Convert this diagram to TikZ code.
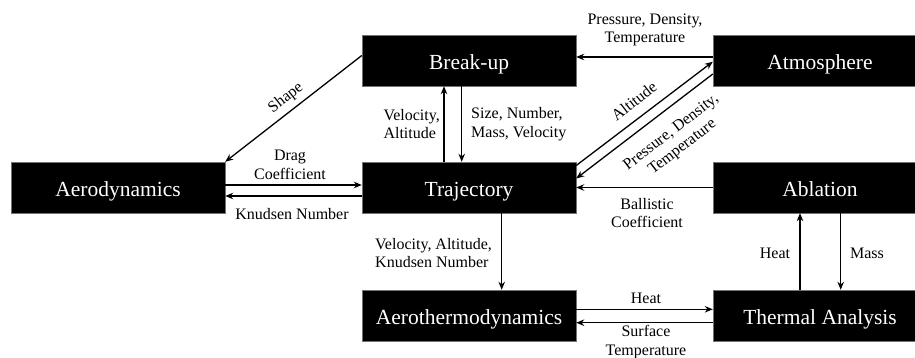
\documentclass[tikz,border=0pt]{standalone}
\usepackage{fontspec}
\setmainfont{Liberation Serif}
\usetikzlibrary{arrows.meta}
\begin{document}
\begin{tikzpicture}[x=1pt,y=-1pt,
  box/.style={fill=black, draw=black!55, line width=0.4pt, minimum width=214pt, minimum height=51pt,
    inner sep=0pt, text=white, text height=18pt, text depth=0pt, font=\fontsize{21.5}{24}\selectfont},
  lbl/.style={font=\fontsize{16}{18.5}\selectfont, inner sep=0pt, align=center},
  arr/.style={line width=1.3pt, -{Stealth[length=8pt,width=6.5pt]}}]
\useasboundingbox (0,0) rectangle (915,358);
\clip (0,0) rectangle (915,358);
% boxes
\node[box] (aero) at (118,187.5) {Aerodynamics};
\node[box] (breakup) at (469,60.5) {Break-up};
\node[box] (traj) at (469,187.5) {Trajectory};
\node[box] (atmos) at (820,60.5) {Atmosphere};
\node[box] (abl) at (820,187.5) {Ablation};
\node[box] (aerot) at (469,315.5) {Aerothermodynamics};
\node[box] (therm) at (820,315.5) {Thermal Analysis};
% connectors
\draw[arr] ([yshift=3.5pt]atmos.west) -- ([yshift=3.5pt]breakup.east);
\draw[arr] ([yshift=5pt]breakup.west) -- (aero.north east);
\draw[arr] ([yshift=2.5pt]aero.east) -- ([yshift=2.5pt]traj.west);
\draw[arr] ([yshift=-8.5pt]traj.west) -- ([yshift=-8.5pt]aero.east);
\draw[arr] ([xshift=-25pt]traj.north) -- ([xshift=-25pt]breakup.south);
\draw[arr] ([xshift=-7.3pt]breakup.south) -- ([xshift=-7.3pt]traj.north);
\draw[arr] ([yshift=-3.7pt]traj.north east) -- ([yshift=-1.2pt]atmos.west);
\draw[arr] ([yshift=-13.5pt]atmos.west) -- ([yshift=9pt]traj.east);
\draw[arr] (abl.west) -- (traj.east);
\draw[arr] ([xshift=32.7pt]traj.south) -- ([xshift=32.7pt]aerot.north);
\draw[arr] ([yshift=6.2pt]aerot.east) -- ([yshift=6.2pt]therm.west);
\draw[arr] ([yshift=-7.2pt]therm.west) -- ([yshift=-7.2pt]aerot.east);
\draw[arr] ([xshift=-20pt]therm.north) -- ([xshift=-20pt]abl.south);
\draw[arr] ([xshift=20.7pt]abl.south) -- ([xshift=20.7pt]therm.north);
% labels
\node[lbl] (lpdt) at (645,30) {Pressure, Density,\\Temperature};
\node[lbl, rotate=38] (lshape) at (286,98) {Shape};
\node[lbl] (ldrag) at (290,165) {Drag\\Coefficient};
\node[lbl] (lknud) at (292,214) {Knudsen Number};
\node[lbl, align=left, anchor=east] (lva) at (440,124) {Velocity,\\Altitude};
\node[lbl, align=left, anchor=west] (lsize) at (471,124) {Size, Number,\\Mass, Velocity};
\node[lbl, rotate=37.7] (lalt) at (634,101) {Altitude};
\node[lbl, rotate=37.5] (lpdt2) at (677,140) {Pressure, Density,\\Temperature};
\node[lbl] (lball) at (647,213) {Ballistic\\Coefficient};
\node[lbl, align=left, anchor=west] (lvak) at (375,253) {Velocity, Altitude,\\Knudsen Number};
\node[lbl] (lheat) at (646,298) {Heat};
\node[lbl] (lsurf) at (646,342) {Surface\\Temperature};
\node[lbl] (lheat2) at (775,253) {Heat};
\node[lbl] (lmass) at (867,253) {Mass};
\end{tikzpicture}
\end{document}
